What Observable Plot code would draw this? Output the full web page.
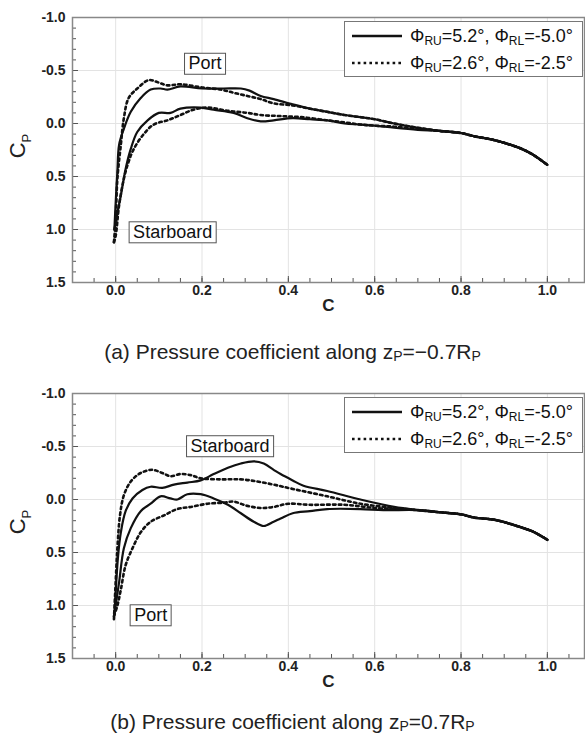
<!DOCTYPE html>
<html><head><meta charset="utf-8">
<script src="https://cdn.jsdelivr.net/npm/d3@7"></script>
<script src="https://cdn.jsdelivr.net/npm/@observablehq/plot@0.6"></script>
<style>
body{margin:0;background:#fff;font-family:"Liberation Sans",Arial,sans-serif;}
#root{position:relative;width:585px;height:741px;overflow:hidden;background:#fff;}
.panel{position:absolute;left:0;width:585px;}
.cap{position:absolute;left:0;width:585px;text-align:center;font-size:21px;line-height:26px;color:#222;white-space:nowrap;}
.cap .s{font-size:14px;position:relative;top:2px;}
.legend{position:absolute;left:344px;top:21px;width:237px;height:54px;border:1.5px solid #777;background:#fff;}
.row{position:absolute;left:0;height:24px;width:237px;}
.row svg{position:absolute;left:7px;top:0;}
.row span{position:absolute;left:65px;top:0;font-size:18px;line-height:24px;color:#111;white-space:nowrap;}
.row sub{font-size:12px;position:relative;top:3px;vertical-align:baseline;}
</style>
</head><body><div id="root"></div>
<script>
// x: chord position c, y: pressure coefficient Cp
const xMajor = [0, 0.2, 0.4, 0.6, 0.8, 1.0];
const yMajor = [-1.0, -0.5, 0.0, 0.5, 1.0, 1.5];
const xMinor = d3.range(-1, 22).map(i => i * 0.05);
const yMinor = d3.range(0, 26).map(i => -1 + i * 0.1);

// ---- panel (a): z_P = -0.7 R_P ----
const aTailC  = [0.75, 0.8, 0.83, 0.87, 0.906, 0.935, 0.965, 1.0];
const aTailCp = [0.07, 0.09, 0.12, 0.15, 0.19, 0.23, 0.29, 0.39];

const aPortSolidC  = [-0.003, 0.0, 0.004, 0.008, 0.019, 0.035, 0.058, 0.081, 0.104, 0.12, 0.15, 0.2, 0.25, 0.29, 0.31, 0.336, 0.366, 0.41, 0.45, 0.49, 0.53, 0.567, 0.6, 0.645, 0.7];
const aPortSolidCp = [1.0, 0.75, 0.45, 0.2, 0.05, -0.11, -0.24, -0.32, -0.33, -0.32, -0.35, -0.33, -0.33, -0.33, -0.31, -0.26, -0.23, -0.18, -0.14, -0.11, -0.08, -0.06, -0.04, 0.0, 0.04];

const aStarSolidC  = [-0.003, 0.0, 0.006, 0.012, 0.023, 0.035, 0.05, 0.074, 0.1, 0.127, 0.15, 0.197, 0.227, 0.273, 0.305, 0.336, 0.366, 0.41, 0.45, 0.49, 0.53, 0.567, 0.6, 0.645, 0.7];
const aStarSolidCp = [1.0, 0.93, 0.8, 0.68, 0.43, 0.24, 0.08, -0.03, -0.10, -0.10, -0.14, -0.15, -0.13, -0.10, -0.05, -0.02, -0.03, -0.05, -0.04, -0.03, 0.0, 0.01, 0.02, 0.04, 0.06];

const aPortDotC  = [-0.004, 0.0, 0.004, 0.012, 0.019, 0.03, 0.05, 0.077, 0.097, 0.12, 0.15, 0.2, 0.243, 0.273, 0.305, 0.336, 0.366, 0.41, 0.45, 0.49, 0.53, 0.567, 0.6, 0.645, 0.7];
const aPortDotCp = [1.12, 0.9, 0.52, 0.2, -0.05, -0.24, -0.33, -0.41, -0.39, -0.36, -0.37, -0.34, -0.32, -0.29, -0.26, -0.23, -0.19, -0.17, -0.14, -0.11, -0.08, -0.06, -0.04, 0.0, 0.04];

const aStarDotC  = [-0.004, 0.0, 0.008, 0.019, 0.03, 0.042, 0.065, 0.088, 0.12, 0.15, 0.18, 0.213, 0.26, 0.305, 0.336, 0.382, 0.43, 0.49, 0.53, 0.567, 0.6, 0.645, 0.7];
const aStarDotCp = [1.12, 1.06, 0.77, 0.52, 0.36, 0.24, 0.10, 0.01, -0.03, -0.08, -0.13, -0.15, -0.12, -0.10, -0.08, -0.07, -0.06, -0.03, -0.01, 0.01, 0.02, 0.03, 0.05];

// ---- panel (b): z_P = 0.7 R_P ----
const bTailC  = [0.75, 0.8, 0.83, 0.875, 0.906, 0.937, 0.965, 1.0];
const bTailCp = [0.12, 0.14, 0.17, 0.19, 0.22, 0.26, 0.30, 0.38];

const bStarSolidC  = [-0.003, 0.0, 0.005, 0.012, 0.023, 0.039, 0.062, 0.081, 0.108, 0.135, 0.166, 0.197, 0.227, 0.26, 0.29, 0.32, 0.343, 0.366, 0.382, 0.41, 0.435, 0.49, 0.567, 0.645, 0.7];
const bStarSolidCp = [1.09, 0.88, 0.56, 0.31, 0.11, -0.01, -0.09, -0.12, -0.11, -0.14, -0.16, -0.18, -0.24, -0.30, -0.34, -0.36, -0.34, -0.28, -0.24, -0.18, -0.13, -0.08, 0.0, 0.07, 0.10];

const bPortSolidC  = [-0.003, 0.0, 0.008, 0.019, 0.035, 0.058, 0.081, 0.104, 0.127, 0.143, 0.166, 0.197, 0.227, 0.26, 0.29, 0.32, 0.343, 0.366, 0.382, 0.41, 0.45, 0.49, 0.567, 0.62, 0.7];
const bPortSolidCp = [1.09, 1.0, 0.78, 0.46, 0.27, 0.11, 0.04, -0.03, -0.01, 0.0, -0.05, -0.05, -0.01, 0.05, 0.13, 0.21, 0.25, 0.21, 0.18, 0.13, 0.11, 0.09, 0.09, 0.10, 0.10];

const bStarDotC  = [-0.004, 0.0, 0.004, 0.01, 0.019, 0.035, 0.058, 0.085, 0.108, 0.127, 0.15, 0.174, 0.197, 0.243, 0.29, 0.328, 0.366, 0.41, 0.49, 0.567, 0.645, 0.7];
const bStarDotCp = [1.13, 0.78, 0.46, 0.15, -0.04, -0.17, -0.25, -0.28, -0.25, -0.22, -0.24, -0.23, -0.20, -0.19, -0.19, -0.17, -0.14, -0.10, -0.03, 0.04, 0.08, 0.10];

const bPortDotC  = [-0.004, 0.004, 0.012, 0.023, 0.039, 0.058, 0.081, 0.112, 0.143, 0.174, 0.213, 0.25, 0.273, 0.305, 0.336, 0.366, 0.4, 0.45, 0.53, 0.6, 0.65, 0.7];
const bPortDotCp = [1.1, 1.0, 0.85, 0.62, 0.46, 0.31, 0.21, 0.15, 0.09, 0.07, 0.04, 0.03, 0.02, 0.06, 0.08, 0.07, 0.04, 0.05, 0.05, 0.08, 0.09, 0.10];

// annotation labels
const aLabelText = ["Port", "Starboard"];
const aLabelC    = [0.207, 0.132];
const aLabelCp   = [-0.566, 1.024];
const bLabelText = ["Starboard", "Port"];
const bLabelC    = [0.265, 0.081];
const bLabelCp   = [-0.505, 1.09];

const legendText = [
  'Φ<sub>RU</sub>=5.2°, Φ<sub>RL</sub>=-5.0°',
  'Φ<sub>RU</sub>=2.6°, Φ<sub>RL</sub>=-2.5°'
];

function series(key, dash, c, cp, tc, tcp) {
  const cs = c.concat(tc), ps = cp.concat(tcp);
  return cs.map((v, i) => ({key, dash, c: v, cp: ps[i]}));
}

const W = 585, H = 318, ML = 72, MR = 1, MT = 17, MB = 36;
const FW = W - ML - MR, FH = H - MT - MB;
const DASH = "2.6,3.2";

function panel(data, labels, top, caption) {
  const root = document.getElementById("root");
  const wrap = document.createElement("div");
  wrap.className = "panel";
  wrap.style.top = top + "px";
  wrap.style.height = H + "px";
  root.appendChild(wrap);

  const solid = data.filter(d => !d.dash);
  const dotted = data.filter(d => d.dash);
  const chart = Plot.plot({
    width: W, height: H,
    marginLeft: ML, marginRight: MR, marginTop: MT, marginBottom: MB,
    style: {fontFamily: "'Liberation Sans', Arial, sans-serif", fontSize: "14px", color: "#222", background: "transparent", overflow: "visible"},
    x: {domain: [-0.1, 1.086]},
    y: {domain: [-1, 1.5], reverse: true},
    marks: [
      Plot.gridX(xMajor, {stroke: "#e3e3e3", strokeOpacity: 1}),
      Plot.gridY(yMajor.slice(1, -1), {stroke: "#e3e3e3", strokeOpacity: 1}),
      Plot.line(solid, {x: "c", y: "cp", z: "key", stroke: "#111", strokeWidth: 2.2, curve: "catmull-rom"}),
      Plot.line(dotted, {x: "c", y: "cp", z: "key", stroke: "#111", strokeWidth: 2.6, strokeDasharray: DASH, curve: "catmull-rom"}),
      Plot.tickX(xMinor, {x: d => d, insetTop: FH - 4, stroke: "#555"}),
      Plot.tickX(xMajor, {x: d => d, insetTop: FH - 6, stroke: "#555"}),
      Plot.tickY(yMinor, {y: d => d, insetRight: FW - 4, stroke: "#555"}),
      Plot.tickY(yMajor, {y: d => d, insetRight: FW - 6, stroke: "#555"}),
      Plot.frame({stroke: "#888", strokeWidth: 1.5}),
      Plot.axisX(xMajor, {tickSize: 0, tickPadding: 3, tickFormat: d => d.toFixed(1), label: null, fontSize: 14, fontWeight: "bold", fill: "#222"}),
      Plot.axisY(yMajor, {tickSize: 0, tickPadding: 7, tickFormat: d => d.toFixed(1), label: null, fontSize: 14, fontWeight: "bold", fill: "#222"}),
      Plot.text(["C"], {text: d => d, frameAnchor: "bottom", dy: 28, fontSize: 17, fontWeight: "bold", fill: "#222"}),
      Plot.text(labels, {x: "c", y: "cp", text: "t", fontSize: 18, fill: "#111"})
    ]
  });
  wrap.appendChild(chart);

  const svg = d3.select(chart);
  // boxes around Port / Starboard
  svg.selectAll("text").filter(function() {
    return this.textContent === "Port" || this.textContent === "Starboard";
  }).each(function() {
    const bb = this.getBBox();
    const r = document.createElementNS("http://www.w3.org/2000/svg", "rect");
    r.setAttribute("x", bb.x - 4);
    r.setAttribute("y", bb.y);
    r.setAttribute("width", bb.width + 8);
    r.setAttribute("height", bb.height + 1);
    r.setAttribute("fill", "#fff");
    r.setAttribute("stroke", "#555");
    r.setAttribute("stroke-width", 1);
    const tr = this.getAttribute("transform");
    if (tr) r.setAttribute("transform", tr);
    this.parentNode.insertBefore(r, this);
  });
  // y axis label C_P
  const yl = svg.append("text")
    .attr("transform", "translate(25,146) rotate(-90)")
    .attr("text-anchor", "middle")
    .attr("fill", "#222")
    .style("font-size", "22px");
  yl.append("tspan").text("C");
  yl.append("tspan").attr("dy", 6).style("font-size", "13px").text("P");

  // legend
  const lg = document.createElement("div");
  lg.className = "legend";
  lg.innerHTML = legendText.map((t, i) =>
    `<div class="row" style="top:${2 + i * 27}px"><svg width="54" height="24"><line x1="0" x2="50" y1="12" y2="12" stroke="#111" stroke-width="2.6" ${i ? `stroke-dasharray="${DASH}"` : ''}/></svg><span>${t}</span></div>`
  ).join("");
  wrap.appendChild(lg);

  const cap = document.createElement("div");
  cap.className = "cap";
  cap.style.top = caption.top + "px";
  cap.innerHTML = caption.html;
  root.appendChild(cap);
}

const aData = [
  ...series("portSolid", false, aPortSolidC, aPortSolidCp, aTailC, aTailCp),
  ...series("starSolid", false, aStarSolidC, aStarSolidCp, aTailC, aTailCp),
  ...series("portDot", true, aPortDotC, aPortDotCp, aTailC, aTailCp),
  ...series("starDot", true, aStarDotC, aStarDotCp, aTailC, aTailCp)
];
const bData = [
  ...series("starSolid", false, bStarSolidC, bStarSolidCp, bTailC, bTailCp),
  ...series("portSolid", false, bPortSolidC, bPortSolidCp, bTailC, bTailCp),
  ...series("starDot", true, bStarDotC, bStarDotCp, bTailC, bTailCp),
  ...series("portDot", true, bPortDotC, bPortDotCp, bTailC, bTailCp)
];
const aLabels = aLabelText.map((t, i) => ({t, c: aLabelC[i], cp: aLabelCp[i]}));
const bLabels = bLabelText.map((t, i) => ({t, c: bLabelC[i], cp: bLabelCp[i]}));

panel(aData, aLabels, 0, {top: 339, html: '(a) Pressure coefficient along z<span class="s">P</span>=−0.7R<span class="s">P</span>'});
panel(bData, bLabels, 376, {top: 709, html: '(b) Pressure coefficient along z<span class="s">P</span>=0.7R<span class="s">P</span>'});
</script>
</body></html>
